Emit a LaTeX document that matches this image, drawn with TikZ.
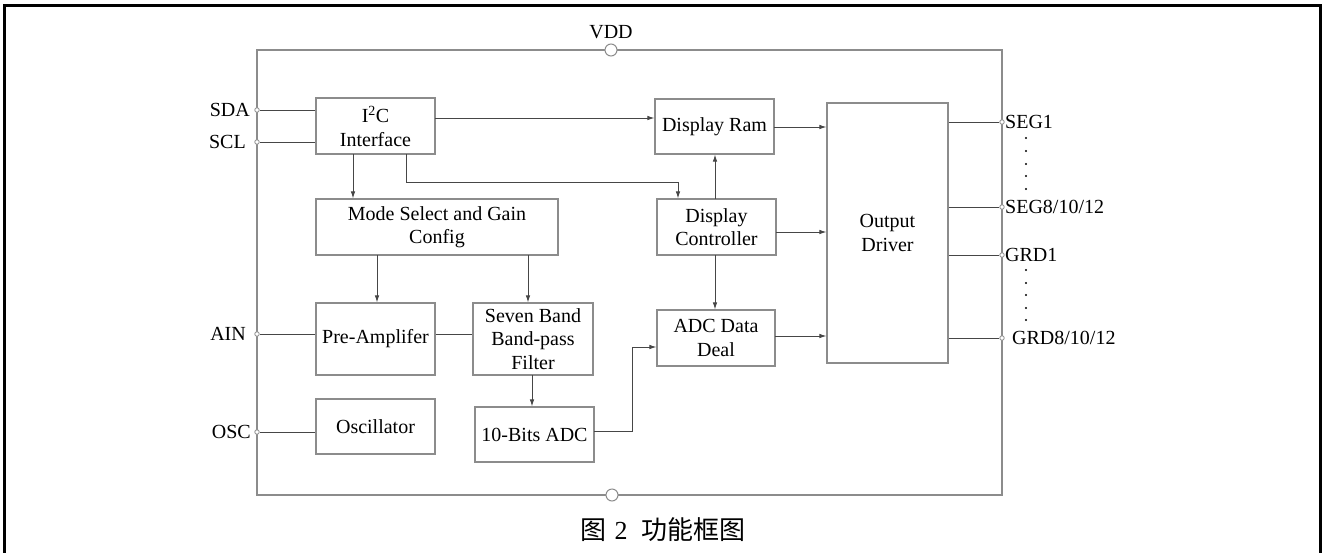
\documentclass[tikz,border=0pt]{standalone}
\usepackage{fontspec}
\setmainfont{Liberation Serif}
\newfontfamily\cjk{Noto Sans CJK SC}
\usetikzlibrary{arrows.meta,calc}
\definecolor{boxgray}{RGB}{140,140,140}
\definecolor{linegray}{RGB}{70,70,70}
\begin{document}
\begin{tikzpicture}[x=1pt,y=-1pt,
  blk/.style={draw=boxgray,line width=1.1pt,rectangle,inner sep=0pt,align=center,
    font=\fontsize{20}{23.5}\selectfont},
  conn/.style={draw=linegray,line width=0.9pt},
  arr/.style={conn,-{Latex[length=7pt,width=4.5pt]}},
  pinlbl/.style={inner sep=0pt,font=\fontsize{20}{23.5}\selectfont},
  pin/.style={circle,draw=boxgray,fill=white,line width=0.8pt,inner sep=0pt,minimum size=4.5pt},
  bigpin/.style={circle,draw=boxgray,fill=white,line width=1pt,inner sep=0pt,minimum size=12pt}]
\useasboundingbox (0,0) rectangle (1322,552);
\fill[white] (0,0) rectangle (1322,552);
% outer frame
\draw[line width=3pt,black] (4.5,570) -- (4.5,5.5) -- (1320.5,5.5) -- (1320.5,570);
% chip outline
\node[draw=boxgray,line width=1.1pt,rectangle,inner sep=0pt,minimum width=745pt,minimum height=445pt] (chip) at (629.5,272.5) {};
% blocks
\node[blk,minimum width=119pt,minimum height=56pt] (i2c) at (375.5,126) {I\textsuperscript{2}C\\Interface};
\node[blk,minimum width=119pt,minimum height=55pt] (ram) at (714.5,126.5) {Display Ram};
\node[blk,minimum width=119pt,minimum height=56pt] (ctrl) at (716.5,227) {Display\\Controller};
\node[blk,minimum width=118pt,minimum height=56pt] (adcd) at (716,338) {ADC Data\\Deal};
\node[blk,minimum width=242pt,minimum height=56pt] (mode) at (437,227) {Mode Select and Gain\\Config};
\node[blk,minimum width=119pt,minimum height=72pt] (pre) at (375.5,339) {Pre-Amplifer};
\node[blk,minimum width=120pt,minimum height=72pt] (seven) at (533,339) {Seven Band\\Band-pass\\Filter};
\node[blk,minimum width=119pt,minimum height=55pt] (adc10) at (534.5,434.5) {10-Bits ADC};
\node[blk,minimum width=119pt,minimum height=55pt] (osc) at (375.5,426.5) {Oscillator};
\node[blk,minimum width=121pt,minimum height=260pt] (od) at (887.5,233) {Output\\Driver};
% left pins
\node[pin] (sdap) at (257,110) {};
\node[pin] (sclp) at (257,142) {};
\node[pin] (ainp) at (257,334) {};
\node[pin] (oscp) at (257,432) {};
\node[pinlbl,anchor=east] (sdal) at (250,110) {SDA};
\node[pinlbl,anchor=east] (scll) at (246,142) {SCL};
\node[pinlbl,anchor=east] (ainl) at (246,334) {AIN};
\node[pinlbl,anchor=east] (oscl) at (251,432) {OSC};
\draw[conn] (sdap) -- (sdap -| i2c.west);
\draw[conn] (sclp) -- (sclp -| i2c.west);
\draw[conn] (ainp) -- (ainp -| pre.west);
\draw[conn] (oscp) -- (oscp -| osc.west);
% power pins
\node[bigpin] (vdd) at (611,50) {};
\node[pinlbl] (vddl) at (611,32) {VDD};
\node[bigpin] (gnd) at (612,495) {};
% internal connectors
\coordinate (a1) at (435,118);
\draw[arr] (a1) -- (a1 -| ram.west);
\coordinate (a2) at (353,154);
\draw[arr] (a2) -- (a2 |- mode.north);
\coordinate (a3) at (406,154);
\coordinate (a3b) at (678,182);
\draw[arr] (a3) -- (a3 |- a3b) -- (a3b) -- (a3b |- ctrl.north);
\coordinate (a4) at (715,199);
\draw[arr] (a4) -- (a4 |- ram.south);
\coordinate (a5) at (774,127);
\draw[arr] (a5) -- (a5 -| od.west);
\coordinate (a6) at (776,232);
\draw[arr] (a6) -- (a6 -| od.west);
\coordinate (a7) at (715,255);
\draw[arr] (a7) -- (a7 |- adcd.north);
\coordinate (a8) at (775,336);
\draw[arr] (a8) -- (a8 -| od.west);
\coordinate (a9) at (377,255);
\draw[arr] (a9) -- (a9 |- pre.north);
\coordinate (a10) at (528,255);
\draw[arr] (a10) -- (a10 |- seven.north);
\draw[conn] (pre.east |- ainp) -- (seven.west |- ainp);
\coordinate (a11) at (532,375);
\draw[arr] (a11) -- (a11 |- adc10.north);
\coordinate (a12) at (594,431);
\coordinate (a12b) at (632,347);
\draw[arr] (a12) -- (a12 -| a12b) -- (a12b) -- (a12b -| adcd.west);
% right pins
\node[pin] (seg1) at (1002,122) {};
\node[pin] (seg8) at (1002,207) {};
\node[pin] (grd1) at (1002,255) {};
\node[pin] (grd8) at (1002,338) {};
\draw[conn] (od.east |- seg1) -- (seg1);
\draw[conn] (od.east |- seg8) -- (seg8);
\draw[conn] (od.east |- grd1) -- (grd1);
\draw[conn] (od.east |- grd8) -- (grd8);
\node[pinlbl,anchor=west] (seg1l) at (1005,122) {SEG1};
\node[pinlbl,anchor=west] (seg8l) at (1005,207) {SEG8/10/12};
\node[pinlbl,anchor=west] (grd1l) at (1005,255) {GRD1};
\node[pinlbl,anchor=west] (grd8l) at (1012,338) {GRD8/10/12};
\foreach \yy in {138,151,164,176,189,270,283,295,308,320}
  \fill[black] (1026,\yy) circle (1.1pt);
% caption
\node[inner sep=0pt,font=\fontsize{26}{30}\selectfont] (cap) at (663,530) {{\cjk 图}\hspace{8pt}2\hspace{14pt}{\cjk 功能框图}};
\end{tikzpicture}
\end{document}
